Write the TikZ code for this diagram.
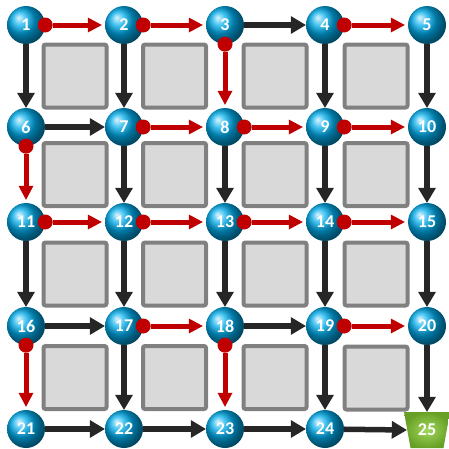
\documentclass[tikz,border=0pt]{standalone}
\usepackage{fontspec}
\setmainfont{Carlito}
\usetikzlibrary{arrows.meta, calc}

\definecolor{ballblue}{RGB}{0,172,235}
\definecolor{linegray}{RGB}{38,38,38}
\definecolor{linered}{RGB}{192,0,0}
\definecolor{boxfill}{RGB}{217,217,217}
\definecolor{boxdraw}{RGB}{128,128,128}
\definecolor{goaldark}{RGB}{104,160,38}
\definecolor{goallight}{RGB}{162,214,92}

\begin{document}
\begin{tikzpicture}[x=1pt, y=-1pt,
		ball/.style={circle, minimum size=38pt, inner sep=0pt, ball color=ballblue, text=white, font=\bfseries\fontsize{18}{18}\selectfont},
		goal/.style={rectangle, minimum width=46pt, minimum height=36pt, inner sep=0pt, text=white, font=\bfseries\fontsize{18}{18}\selectfont,
			path picture={\shade[inner color=goallight, outer color=goaldark] (path picture bounding box.north west) -- (path picture bounding box.north east) -- ([xshift=-6.5pt]path picture bounding box.south east) -- ([xshift=6.5pt]path picture bounding box.south west) -- cycle;}},
		box/.style={rectangle, rounded corners=2pt, minimum size=63pt, line width=4pt, draw=boxdraw, fill=boxfill},
		darrow/.style={draw=linegray, line width=5.5pt, -{Triangle[length=15pt, width=18pt, line width=0pt]}},
		rarrow/.style={draw=linered, line width=5pt, shorten <=-7.5pt, {Circle[length=15pt, line width=0pt]}-{Triangle[length=14pt, width=15pt, line width=0pt, sep=3pt]}}]
			\useasboundingbox (0,0) rectangle (449,448);
			% grid of crossings
			\node[ball] (n1) at (26,25) {1};
			\node[ball] (n2) at (124,25) {2};
			\node[ball] (n3) at (225,25) {3};
			\node[ball] (n4) at (325,25) {4};
			\node[ball] (n5) at (427,25) {5};
			\node[ball] (n6) at (26,127) {6};
			\node[ball] (n7) at (124,127) {7};
			\node[ball] (n8) at (225,127) {8};
			\node[ball] (n9) at (325,127) {9};
			\node[ball] (n10) at (427,127) {10};
			\node[ball] (n11) at (26,222) {11};
			\node[ball] (n12) at (124,222) {12};
			\node[ball] (n13) at (225,222) {13};
			\node[ball] (n14) at (325,222) {14};
			\node[ball] (n15) at (427,222) {15};
			\node[ball] (n16) at (26,326) {16};
			\node[ball] (n17) at (124,326) {17};
			\node[ball] (n18) at (225,326) {18};
			\node[ball] (n19) at (325,326) {19};
			\node[ball] (n20) at (427,326) {20};
			\node[ball] (n21) at (26,429) {21};
			\node[ball] (n22) at (124,429) {22};
			\node[ball] (n23) at (225,429) {23};
			\node[ball] (n24) at (325,429) {24};
			\node[goal] (n25) at (427,430) {25};
			% blocks
			\node[box] (b1) at ($(n1)!0.5!(n7)$) {};
			\node[box] (b2) at ($(n2)!0.5!(n8)$) {};
			\node[box] (b3) at ($(n3)!0.5!(n9)$) {};
			\node[box] (b4) at ($(n4)!0.5!(n10)$) {};
			\node[box] (b5) at ($(n6)!0.5!(n12)$) {};
			\node[box] (b6) at ($(n7)!0.5!(n13)$) {};
			\node[box] (b7) at ($(n8)!0.5!(n14)$) {};
			\node[box] (b8) at ($(n9)!0.5!(n15)$) {};
			\node[box] (b9) at ($(n11)!0.5!(n17)$) {};
			\node[box] (b10) at ($(n12)!0.5!(n18)$) {};
			\node[box] (b11) at ($(n13)!0.5!(n19)$) {};
			\node[box] (b12) at ($(n14)!0.5!(n20)$) {};
			\node[box] (b13) at ($(n16)!0.5!(n22)$) {};
			\node[box] (b14) at ($(n17)!0.5!(n23)$) {};
			\node[box] (b15) at ($(n18)!0.5!(n24)$) {};
			\node[box] (b16) at ($(n19)!0.5!(n25)$) {};
			% rows
			\draw[rarrow] (n1) -- (n2);
			\draw[rarrow] (n2) -- (n3);
			\draw[darrow] (n3) -- (n4);
			\draw[rarrow] (n4) -- (n5);
			\draw[darrow] (n6) -- (n7);
			\draw[rarrow] (n7) -- (n8);
			\draw[rarrow] (n8) -- (n9);
			\draw[rarrow] (n9) -- (n10);
			\draw[rarrow] (n11) -- (n12);
			\draw[rarrow] (n12) -- (n13);
			\draw[rarrow] (n13) -- (n14);
			\draw[rarrow] (n14) -- (n15);
			\draw[darrow] (n16) -- (n17);
			\draw[rarrow] (n17) -- (n18);
			\draw[darrow] (n18) -- (n19);
			\draw[rarrow] (n19) -- (n20);
			\draw[darrow] (n21) -- (n22);
			\draw[darrow] (n22) -- (n23);
			\draw[darrow] (n23) -- (n24);
			\draw[darrow] (n24) -- ([xshift=3pt]n25.west);
			% columns
			\draw[darrow] (n1) -- (n6);
			\draw[rarrow] (n6) -- (n11);
			\draw[darrow] (n11) -- (n16);
			\draw[rarrow] (n16) -- (n21);
			\draw[darrow] (n2) -- (n7);
			\draw[darrow] (n7) -- (n12);
			\draw[darrow] (n12) -- (n17);
			\draw[darrow] (n17) -- (n22);
			\draw[rarrow] (n3) -- (n8);
			\draw[darrow] (n8) -- (n13);
			\draw[darrow] (n13) -- (n18);
			\draw[rarrow] (n18) -- (n23);
			\draw[darrow] (n4) -- (n9);
			\draw[darrow] (n9) -- (n14);
			\draw[darrow] (n14) -- (n19);
			\draw[darrow] (n19) -- (n24);
			\draw[darrow] (n5) -- (n10);
			\draw[darrow] (n10) -- (n15);
			\draw[darrow] (n15) -- (n20);
			\draw[darrow] (n20) -- (n25);
		\end{tikzpicture}
\end{document}
